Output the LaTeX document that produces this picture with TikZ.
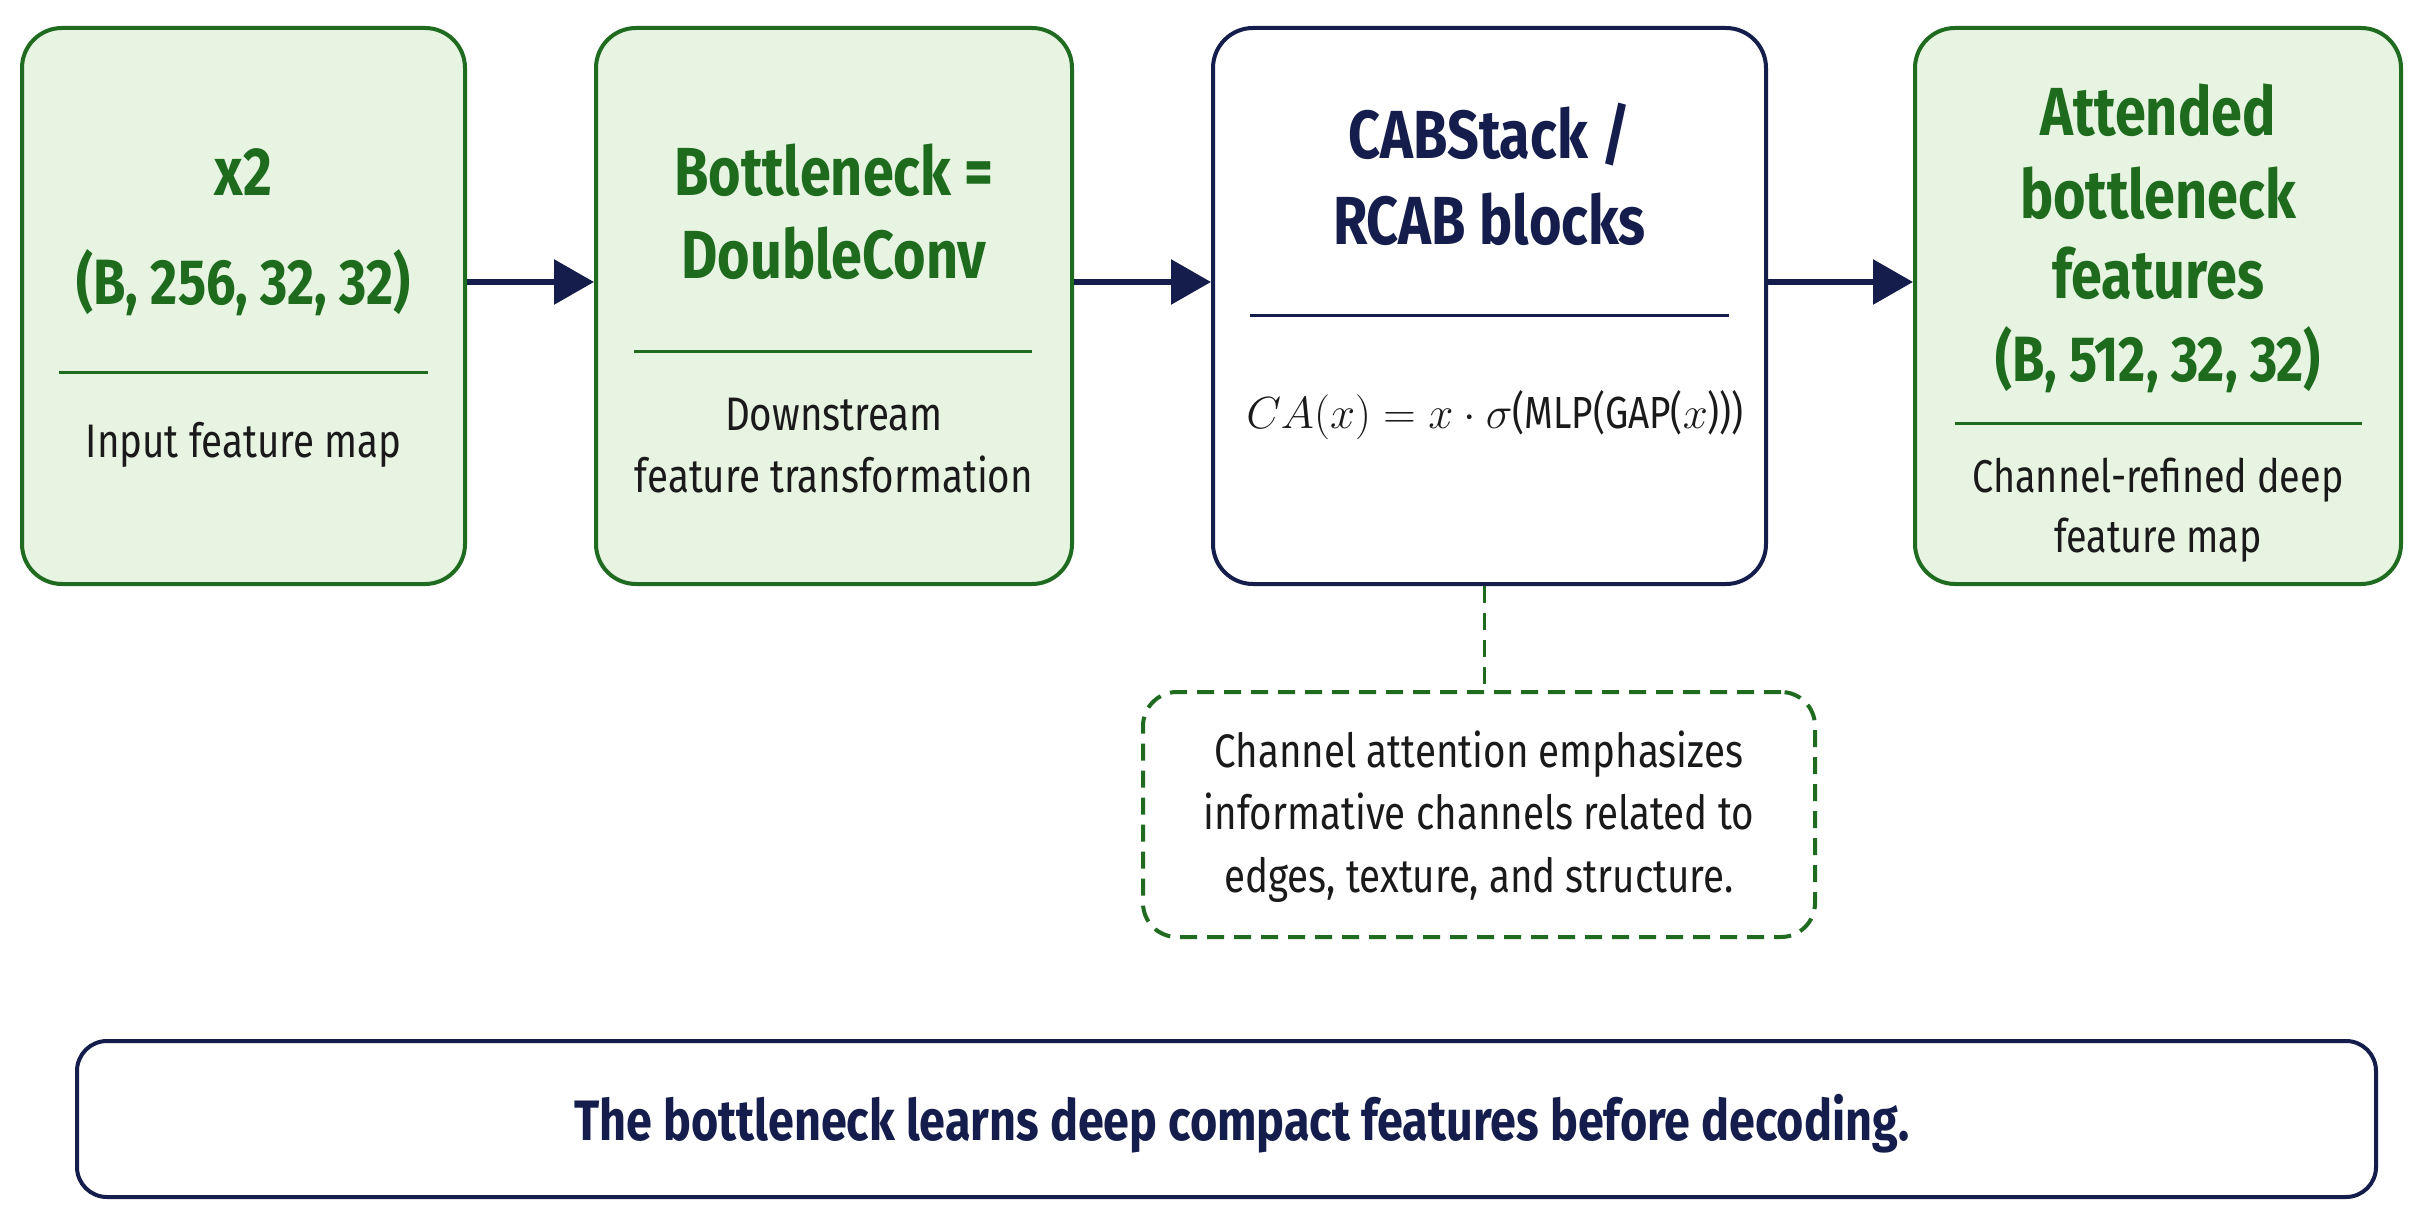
\RequirePackage{fix-cm}
\documentclass[tikz,border=0pt]{standalone}
\usepackage{fontspec}
\setmainfont{Fira Sans}[FakeStretch=0.82]
\usetikzlibrary{arrows.meta}

\definecolor{gline}{HTML}{1F6B1F}
\definecolor{gfill}{HTML}{E7F4E2}
\definecolor{gtext}{HTML}{1E6B1E}
\definecolor{navy}{HTML}{141D4B}
\definecolor{ink}{HTML}{1A1A1A}

\tikzset{
  gbox/.style={draw=gline, fill=gfill, line width=4pt, rounded corners=40pt,
    minimum height=556pt, inner sep=0pt},
  nbox/.style={draw=navy, fill=white, line width=4pt, rounded corners=40pt,
    minimum height=556pt, inner sep=0pt},
  notebox/.style={draw=gline, fill=white, line width=4pt,
    dash pattern=on 17pt off 10pt, rounded corners=34pt, inner sep=0pt},
  sumbox/.style={draw=navy, fill=white, line width=4pt, rounded corners=30pt, inner sep=0pt},
  txt/.style={anchor=base, inner sep=0pt},
  gtitle/.style={txt, text=gtext, font=\fontsize{68}{80}\selectfont\bfseries},
  ntitle/.style={txt, text=navy, font=\fontsize{68}{80}\selectfont\bfseries},
  dims/.style={txt, text=gtext, font=\fontsize{64}{76}\selectfont\bfseries},
  body/.style={txt, text=ink, font=\fontsize{47}{61}\selectfont},
  gdiv/.style={draw=gline, line width=3pt},
  ndiv/.style={draw=navy, line width=3pt},
  flow/.style={draw=navy, line width=6pt, -{Triangle[length=40pt,width=44pt]}},
  link/.style={draw=gline, line width=3pt, dash pattern=on 17pt off 10pt},
}

\begin{document}
\begin{tikzpicture}[x=1pt,y=-1pt]
  \useasboundingbox (0,0) rectangle (2429,1230);
  \fill[white] (0,0) rectangle (2429,1230);

  % four stage boxes
  \node[gbox, minimum width=443pt] (b1) at (243.5,306) {};
  \node[gbox, minimum width=476pt] (b2) at (834,306) {};
  \node[nbox, minimum width=553pt] (b3) at (1489.5,306) {};
  \node[gbox, minimum width=486pt] (b4) at (2158,306) {};

  % stage 1
  \node[gtitle] (t1a) at (243.5,196) {x2};
  \node[dims] (t1b) at (243.5,305) {(B, 256, 32, 32)};
  \draw[gdiv] (59,373) -- (428,373);
  \node[body] (t1c) at (243.5,457) {Input feature map};

  % stage 2
  \node[gtitle] (t2a) at (834,196) {Bottleneck =};
  \node[gtitle] (t2b) at (834,279) {DoubleConv};
  \draw[gdiv] (634,352) -- (1032,352);
  \node[body] (t2c) at (834,431) {Downstream};
  \node[body] (t2d) at (834,493) {feature transformation};

  % stage 3
  \node[ntitle] (t3a) at (1489.5,159) {CABStack /};
  \node[ntitle] (t3b) at (1489.5,245) {RCAB blocks};
  \draw[ndiv] (1250,316) -- (1729,316);
  \node[txt, text=ink, font=\fontsize{45}{58}\selectfont] (t3c) at (1495,429)
    {$CA(x) = x\cdot\sigma$(MLP(GAP($x$)))};

  % stage 4
  \node[gtitle] (t4a) at (2158,136) {Attended};
  \node[gtitle] (t4b) at (2158,219) {bottleneck};
  \node[gtitle] (t4c) at (2158,299) {features};
  \node[dims] (t4d) at (2158,382) {(B, 512, 32, 32)};
  \draw[gdiv] (1955,424) -- (2362,424);
  \node[txt, text=ink, font=\fontsize{46}{61}\selectfont] (t4e) at (2158,493) {Channel-refined deep};
  \node[txt, text=ink, font=\fontsize{46}{61}\selectfont] (t4f) at (2158,552) {feature map};

  % flow arrows
  \draw[flow] ([yshift=24pt]b1.east) -- ([yshift=24pt]b2.west);
  \draw[flow] ([yshift=24pt]b2.east) -- ([yshift=24pt]b3.west);
  \draw[flow] ([yshift=24pt]b3.east) -- ([yshift=24pt]b4.west);

  % annotation under the attention stage
  \node[notebox, minimum width=672pt, minimum height=245pt] (note) at (1479,814.5) {};
  \node[body] (n1) at (1479,767) {Channel attention emphasizes};
  \node[body] (n2) at (1479,829) {informative channels related to};
  \node[body] (n3) at (1479,892) {edges, texture, and structure.};
  \draw[link] ([xshift=5pt]note.north |- b3.south) -- ([xshift=5pt]note.north);

  % summary banner
  \node[sumbox, minimum width=2299pt, minimum height=156pt] (sum) at (1226.5,1119) {};
  \node[txt, text=navy, font=\fontsize{57}{68}\selectfont\bfseries] (s1)
    at (1242,1140) {The bottleneck learns deep compact features before decoding.};
\end{tikzpicture}
\end{document}
